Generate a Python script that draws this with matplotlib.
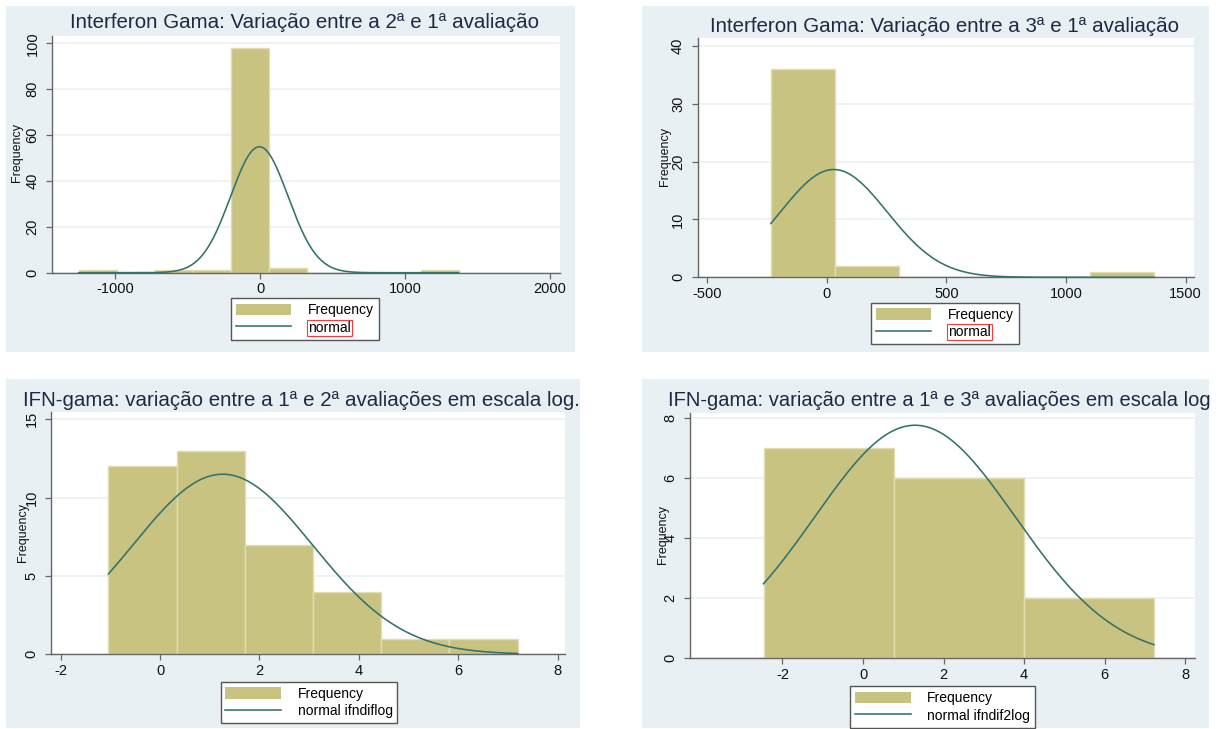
import numpy as np
import matplotlib
matplotlib.use("Agg")
import matplotlib.pyplot as plt
from matplotlib.patches import Rectangle, Patch
from matplotlib.lines import Line2D

plt.rcParams['font.family'] = ['Liberation Sans', 'DejaVu Sans']

W, H = 1222, 729

# ---------------- data ----------------
titles = [
    "Interferon Gama: Variação entre a 2ª e 1ª avaliação",
    "Interferon Gama: Variação entre a 3ª e 1ª avaliação",
    "IFN-gama: variação entre a 1ª e 2ª avaliações em escala log.",
    "IFN-gama: variação entre a 1ª e 3ª avaliações em escala log",
]
legend_labels = ["normal", "normal", "normal ifndiflog", "normal ifndif2log"]

# histogram bin starts / widths / counts
bin_start = [-1251, -233, -1.04, -2.47]
bin_width = [262, 267, 1.373, 3.23]
counts1 = [1, 0, 1, 1, 98, 2, 0, 0, 0, 1]
counts2 = [36, 2, 0, 0, 0, 1]
counts3 = [12, 13, 7, 4, 1, 1]
counts4 = [7, 6, 2]
counts = [counts1, counts2, counts3, counts4]

# fitted normal parameters (mean, sd)
norm_mean = [-5, 30, 1.26, 1.29]
norm_sd = [198, 223, 1.81, 2.49]

xticks = [[-1000, 0, 1000, 2000], [-500, 0, 500, 1000, 1500],
          [-2, 0, 2, 4, 6, 8], [-2, 0, 2, 4, 6, 8]]
yticks = [[0, 20, 40, 60, 80, 100], [0, 10, 20, 30, 40],
          [0, 5, 10, 15], [0, 2, 4, 6, 8]]
xlims = [(-1435, 2065), (-539, 1535), (-2.19, 8.15), (-4.29, 8.23)]
ylims = [(0, 103.2), (0, 41.3), (0, 15.49), (0, 8.16)]

# ---------------- layout (pixels) ----------------
bg_boxes = [(6, 6, 575, 352), (642, 6, 1209, 352),
            (6, 379, 580, 728), (642, 379, 1209, 728)]
ax_boxes = [(52, 36, 559.5, 272.7), (697.6, 38.3, 1194, 277.3),
            (51.3, 411.7, 565, 654.3), (690.2, 413.3, 1194.6, 658.3)]
title_pos = [(305, 23, 'center'), (945, 26, 'center'),
             (23, 400, 'left'), (668, 401, 'left')]
title_size = [14.8, 14.8, 14.8, 14.5]
ylab_pos = [(17, 153), (665, 157), (23, 532), (663, 535)]
leg_center = [(305, 319), (945, 323.5), (309, 702.5), (942.5, 707)]

bar_color = '#c9c382'
bar_edge = '#e2ddb0'
line_color = '#33726a'
bg_color = '#e8f0f3'
grid_color = '#eaf1f3'

fig = plt.figure(figsize=(W / 100, H / 100), dpi=100)
fig.patch.set_facecolor('white')

def fx(x):
    return x / W

def fy(y):
    return 1 - y / H

red_targets = []
for i in range(4):
    x0, y0, x1, y1 = bg_boxes[i]
    fig.patches.append(Rectangle((fx(x0), fy(y1)), (x1 - x0) / W, (y1 - y0) / H,
                                 transform=fig.transFigure, facecolor=bg_color,
                                 edgecolor='none', zorder=-5))
    a0, b0, a1, b1 = ax_boxes[i]
    ax = fig.add_axes([fx(a0), fy(b1), (a1 - a0) / W, (b1 - b0) / H])
    ax.set_zorder(1)
    ax.set_facecolor('white')
    c = np.array(counts[i])
    edges = bin_start[i] + bin_width[i] * np.arange(len(c) + 1)
    ax.bar(edges[:-1], c, width=bin_width[i], align='edge', color=bar_color,
           edgecolor=bar_edge, linewidth=1.0, zorder=2)
    n = c.sum()
    xs = np.linspace(edges[0], edges[-1], 600)
    ys = n * bin_width[i] * np.exp(-0.5 * ((xs - norm_mean[i]) / norm_sd[i]) ** 2) / (norm_sd[i] * np.sqrt(2 * np.pi))
    ax.plot(xs, ys, color=line_color, lw=1.15, zorder=3, clip_on=False)
    ax.set_xlim(*xlims[i])
    ax.set_ylim(*ylims[i])
    ax.set_xticks(xticks[i])
    ax.set_yticks(yticks[i])
    ax.set_xticklabels([str(t) for t in xticks[i]])
    ax.set_yticklabels([str(t) for t in yticks[i]], rotation=90, va='center')
    for t in yticks[i]:
        ax.axhline(t, color=grid_color, lw=1.2, zorder=1)
    for s in ['top', 'right']:
        ax.spines[s].set_visible(False)
    for s in ['left', 'bottom']:
        ax.spines[s].set_color('#666666')
        ax.spines[s].set_linewidth(1.0)
        ax.spines[s].set_zorder(2.5)
    ax.tick_params(direction='out', length=4, width=0.9, color='#666666',
                   labelsize=10.5, labelcolor='#111111')
    ax.tick_params(axis='x', pad=3)
    ax.tick_params(axis='y', pad=5)
    tx, ty, ha = title_pos[i]
    fig.text(fx(tx), fy(ty), titles[i], ha=ha, va='center',
             fontsize=title_size[i], color='#1e2a44', zorder=5)
    lx, ly = ylab_pos[i]
    fig.text(fx(lx), fy(ly), "Frequency", rotation=90, ha='center', va='center',
             fontsize=9, color='#111111', zorder=5)
    handles = [Patch(facecolor=bar_color, edgecolor='none'),
               Line2D([0], [0], color=line_color, lw=1.15)]
    cx, cy = leg_center[i]
    leg = fig.legend(handles, ["Frequency", legend_labels[i]], loc='center',
                     bbox_to_anchor=(fx(cx), fy(cy)), fontsize=10,
                     frameon=True, fancybox=False, edgecolor='#555555',
                     facecolor='white', framealpha=1, handlelength=4.0,
                     handleheight=0.9, labelspacing=0.25, borderpad=0.35,
                     handletextpad=1.2, borderaxespad=0)
    leg.set_zorder(6)
    leg.get_frame().set_linewidth(1.0)
    if i < 2:
        red_targets.append(leg.get_texts()[1])

fig.canvas.draw()
renderer = fig.canvas.get_renderer()
for t in red_targets:
    bb = t.get_window_extent(renderer)
    fig.patches.append(Rectangle((bb.x0 / W - 1 / W, bb.y0 / H - 1 / H),
                                 bb.width / W + 2 / W, bb.height / H + 2 / H,
                                 transform=fig.transFigure, facecolor='none',
                                 edgecolor='#e84040', lw=0.8, zorder=10))

fig.savefig("out.png", dpi=100)
